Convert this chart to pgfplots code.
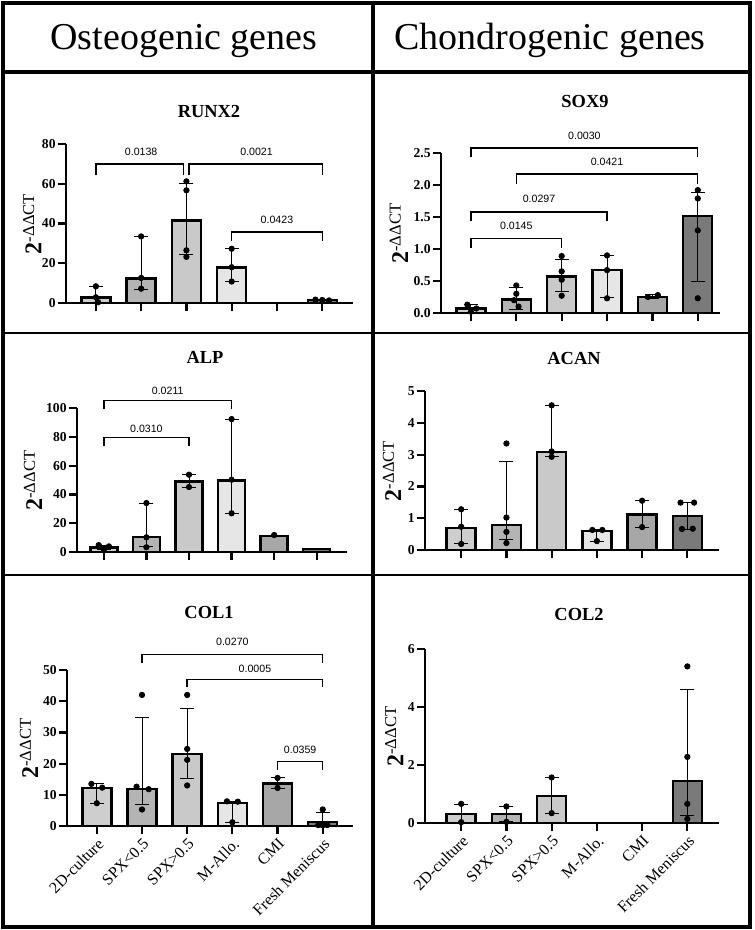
\documentclass[border=0pt]{standalone}
\usepackage{pgfplots}
\pgfplotsset{compat=1.18}
\usepackage{fontspec}
\setmainfont{Liberation Serif}
\newfontfamily\sansf{Liberation Sans}
\definecolor{c0}{HTML}{CECECE}
\definecolor{c1}{HTML}{B4B4B4}
\definecolor{c2}{HTML}{C9C9C9}
\definecolor{c3}{HTML}{E6E6E6}
\definecolor{c4}{HTML}{A7A7A7}
\definecolor{c5}{HTML}{7A7A7A}
\newcommand{\bw}{14.5pt}
\newcommand{\gbar}[3]{\addplot[ybar, bar width=\bw, fill=#3, draw=black, line width=1.2pt] coordinates {(#1,#2)};}
\newcommand{\ebar}[3]{\addplot[black, line width=0.5pt, mark=-, mark size=3.5pt, mark options={line width=0.5pt}] coordinates {(#1,#2) (#1,#3)};}
\newcommand{\plab}{\sansf\fontsize{5.3}{6}\selectfont}
\pgfplotsset{
  panel/.style={
    scale only axis, anchor=south west, clip=false,
    axis x line*=bottom, axis y line*=left,
    axis line style={line width=1.2pt},
    ymin=0, xtick={0,1,2,3,4,5}, xticklabels={},
    tick align=outside, major tick length=4pt,
    tick style={black, line width=1.1pt},
    minor tick num=0,
    /pgf/number format/assume math mode=true,
    yticklabel style={font=\bfseries\fontsize{6.8}{7.5}\selectfont, inner sep=1pt},
    ylabel={{\fontsize{12}{13}\selectfont\bfseries 2}\textsuperscript{\fontsize{8.3}{9}\selectfont -ΔΔCT}},
  },
  dots/.style={only marks, mark=*, mark size=1.35pt, black},
  brk/.style={black, line width=0.7pt, mark=none},
  bottomrow/.style={
    xticklabels={2D-culture,SPX<0.5,SPX>0.5,M-Allo.,CMI,Fresh Meniscus},
    xticklabel style={rotate=45, anchor=north east, font=\fontsize{8}{9}\selectfont, inner sep=1pt},
  },
}
\begin{document}
\begin{tikzpicture}
\useasboundingbox (0,0) rectangle (377pt,-465pt);
% frame
\draw[line width=2pt] (1.5pt,-1.5pt) rectangle (375pt,-463.5pt);
\draw[line width=2pt] (1.5pt,-36pt) -- (375pt,-36pt);
\draw[line width=1.8pt] (186.5pt,-1.5pt) -- (186.5pt,-463.5pt);
\draw[line width=1pt] (1.5pt,-166.5pt) -- (375pt,-166.5pt);
\draw[line width=1pt] (1.5pt,-287.5pt) -- (375pt,-287.5pt);
\node[anchor=base, font=\fontsize{19}{22}\selectfont] at (92pt,-25pt) {Osteogenic genes};
\node[anchor=base, font=\fontsize{19}{22}\selectfont] at (275pt,-25pt) {Chondrogenic genes};
% titles
\node[anchor=base, font=\bfseries\fontsize{9.2}{11}\selectfont] at (104.5pt,-59pt) {RUNX2};
\node[anchor=base, font=\bfseries\fontsize{9.2}{11}\selectfont] at (292.5pt,-54pt) {SOX9};
\node[anchor=base, font=\bfseries\fontsize{9.2}{11}\selectfont] at (102.5pt,-181.5pt) {ALP};
\node[anchor=base, font=\bfseries\fontsize{9.2}{11}\selectfont] at (287pt,-182pt) {ACAN};
\node[anchor=base, font=\bfseries\fontsize{9.2}{11}\selectfont] at (104.5pt,-309pt) {COL1};
\node[anchor=base, font=\bfseries\fontsize{9.2}{11}\selectfont] at (289.5pt,-310pt) {COL2};

% ---------------- RUNX2
\begin{axis}[panel, at={(33pt,-151.5pt)}, width=143.5pt, height=79.5pt,
  xmin=-0.66, xmax=5.68, ymax=80, ytick={0,20,40,60,80},
  ylabel style={at={(axis description cs:-0.118,0.5)}, anchor=center}]
\gbar{0}{2.8}{c0}
\gbar{1}{12.3}{c1}
\gbar{2}{41.5}{c2}
\gbar{3}{17.8}{c3}
\gbar{5}{1.6}{c5}
\ebar{0}{0}{8.4}
\ebar{1}{7.0}{33.5}
\ebar{2}{24.2}{60.2}
\ebar{3}{10.7}{27.2}
\ebar{5}{1.4}{1.8}
\addplot[dots] coordinates {(0,8.4) (0,2.9) (0.05,0.4) (1,33.5) (1,12.6) (1,7.2)
  (2,61.2) (2,56.7) (2,26.5) (2,23.2) (3,27.3) (3,18.0) (3,10.8)
  (4.85,1.7) (5,1.5) (5.15,1.3)};
\addplot[brk] coordinates {(0,64.6) (0,70) (1.94,70) (1.94,64.6)};
\addplot[brk] coordinates {(2.06,64.6) (2.06,70) (5,70) (5,64.6)};
\addplot[brk] coordinates {(3,31) (3,35.7) (5,35.7) (5,31)};
\node[font=\plab] at (axis cs:1,75.8) {0.0138};
\node[font=\plab] at (axis cs:3.55,75.8) {0.0021};
\node[font=\plab] at (axis cs:4,41.6) {0.0423};
\end{axis}

% ---------------- SOX9
\begin{axis}[panel, at={(220.5pt,-156.5pt)}, width=139.5pt, height=80pt,
  xmin=-0.66, xmax=5.49, ymax=2.5, ytick={0,0.5,1,1.5,2,2.5},
  yticklabel style={/pgf/number format/.cd, fixed, fixed zerofill, precision=1},
  ylabel style={at={(axis description cs:-0.151,0.5)}, anchor=center}]
\gbar{0}{0.07}{c0}
\gbar{1}{0.21}{c1}
\gbar{2}{0.57}{c2}
\gbar{3}{0.67}{c3}
\gbar{4}{0.25}{c4}
\gbar{5}{1.52}{c5}
\ebar{0}{0}{0.13}
\ebar{1}{0.06}{0.40}
\ebar{2}{0.33}{0.84}
\ebar{3}{0.24}{0.90}
\ebar{4}{0.23}{0.29}
\ebar{5}{0.49}{1.88}
\addplot[dots] coordinates {(-0.08,0.13) (0.12,0.07) (0,0.02)
  (1,0.43) (1,0.30) (0.95,0.2) (1.05,0.1)
  (2,0.89) (2,0.65) (2,0.52) (2,0.27) (3,0.90) (3,0.67) (3,0.23)
  (3.9,0.25) (4.12,0.28) (5,1.92) (5,1.79) (5,1.29) (5,0.23)};
\addplot[brk] coordinates {(0,2.43) (0,2.58) (5,2.58) (5,2.43)};
\addplot[brk] coordinates {(1,2.02) (1,2.17) (5,2.17) (5,2.02)};
\addplot[brk] coordinates {(0,1.44) (0,1.58) (3,1.58) (3,1.44)};
\addplot[brk] coordinates {(0,1.01) (0,1.16) (2,1.16) (2,1.01)};
\node[font=\plab] at (axis cs:2.5,2.77) {0.0030};
\node[font=\plab] at (axis cs:3,2.36) {0.0421};
\node[font=\plab] at (axis cs:1.5,1.78) {0.0297};
\node[font=\plab] at (axis cs:1,1.36) {0.0145};
\end{axis}

% ---------------- ALP
\begin{axis}[panel, at={(38.5pt,-276pt)}, width=135pt, height=72pt,
  xmin=-0.63, xmax=5.71, ymax=100, ytick={0,20,40,60,80,100},
  ylabel style={at={(axis description cs:-0.163,0.5)}, anchor=center}]
\renewcommand{\bw}{13.5pt}
\gbar{0}{3.2}{c0}
\gbar{1}{10.4}{c1}
\gbar{2}{49}{c2}
\gbar{3}{49.7}{c3}
\gbar{4}{11.2}{c4}
\gbar{5}{2.0}{c5}
\ebar{0}{1.8}{4.6}
\ebar{1}{3.5}{34}
\ebar{2}{45.1}{53.7}
\ebar{3}{27}{92.3}
\ebar{4}{10.8}{11.8}
\addplot[dots] coordinates {(-0.12,4.8) (0.12,3.9) (0,1.5) (1,34) (1,10.2) (1,3.3)
  (2,53.7) (2,45.1) (3,92.3) (3,50.2) (3,26.9) (4,11.8)};
\addplot[brk] coordinates {(0,99) (0,105.3) (3,105.3) (3,99)};
\addplot[brk] coordinates {(0,73.4) (0,79.4) (2,79.4) (2,73.4)};
\node[font=\plab] at (axis cs:1.5,111.6) {0.0211};
\node[font=\plab] at (axis cs:1,85.6) {0.0310};
\end{axis}
\renewcommand{\bw}{14.5pt}

% ---------------- ACAN
\begin{axis}[panel, at={(212.5pt,-275pt)}, width=147pt, height=79.5pt,
  xmin=-0.8, xmax=5.7, ymax=5, ytick={0,1,2,3,4,5},
  ylabel style={at={(axis description cs:-0.112,0.5)}, anchor=center}]
\gbar{0}{0.70}{c0}
\gbar{1}{0.79}{c1}
\gbar{2}{3.08}{c2}
\gbar{3}{0.60}{c3}
\gbar{4}{1.12}{c4}
\gbar{5}{1.06}{c5}
\ebar{0}{0.2}{1.28}
\ebar{1}{0.32}{2.77}
\ebar{2}{2.95}{4.54}
\ebar{3}{0.28}{0.63}
\ebar{4}{0.72}{1.55}
\ebar{5}{0.65}{1.50}
\addplot[dots] coordinates {(0,1.28) (0,0.73) (0,0.19)
  (1,3.35) (1,1.02) (1,0.57) (1,0.22) (2,4.55) (2,3.10) (2,2.93)
  (2.9,0.63) (3.12,0.63) (3,0.28) (4,1.55) (4,0.72)
  (4.85,1.49) (5.15,1.49) (4.88,0.66) (5.12,0.67)};
\end{axis}

% ---------------- COL1
\begin{axis}[panel, bottomrow, at={(33.5pt,-413pt)}, width=143pt, height=78pt,
  xmin=-0.66, xmax=5.67, ymax=50, ytick={0,10,20,30,40,50},
  ylabel style={at={(axis description cs:-0.133,0.5)}, anchor=center}]
\gbar{0}{12.1}{c0}
\gbar{1}{11.9}{c1}
\gbar{2}{23.0}{c2}
\gbar{3}{7.4}{c3}
\gbar{4}{13.6}{c4}
\gbar{5}{1.2}{c5}
\ebar{0}{7.3}{13.5}
\ebar{1}{7.0}{34.8}
\ebar{2}{15.2}{37.8}
\ebar{3}{1.0}{7.9}
\ebar{4}{12.0}{15.4}
\ebar{5}{0}{4.2}
\addplot[dots] coordinates {(-0.12,13.5) (0.12,12.3) (0,7.3)
  (1,42) (0.88,12.6) (1.15,11.8) (1,5.3)
  (2,42) (2,24.7) (2,21.2) (2,13.0)
  (2.88,7.9) (3.12,7.8) (3,1.2) (4,15.4) (4,12.2)
  (5,5.3) (4.9,0.3) (5,0.2) (5.1,0.3)};
\addplot[brk] coordinates {(1,52.1) (1,55) (5,55) (5,52.1)};
\addplot[brk] coordinates {(2,44.4) (2,47) (5,47) (5,44.4)};
\addplot[brk] coordinates {(4,17.9) (4,20.6) (5,20.6) (5,17.9)};
\node[font=\plab] at (axis cs:3,58.9) {0.0270};
\node[font=\plab] at (axis cs:3.5,50.5) {0.0005};
\node[font=\plab] at (axis cs:4.5,24.4) {0.0359};
\end{axis}

% ---------------- COL2
\begin{axis}[panel, bottomrow, at={(212.5pt,-411.5pt)}, width=147pt, height=87pt,
  xmin=-0.8, xmax=5.7, ymax=6, ytick={0,2,4,6},
  ylabel style={at={(axis description cs:-0.105,0.5)}, anchor=center}]
\gbar{0}{0.31}{c0}
\gbar{1}{0.31}{c1}
\gbar{2}{0.94}{c2}
\gbar{5}{1.45}{c5}
\ebar{0}{0}{0.65}
\ebar{1}{0.05}{0.58}
\ebar{2}{0.34}{1.57}
\ebar{5}{0.26}{4.62}
\addplot[dots] coordinates {(0,0.66) (0,0.03) (1,0.57) (1,0.04) (2,1.57) (2,0.34)
  (5,5.4) (5,2.28) (5,0.66) (5,0.14)};
\end{axis}
\end{tikzpicture}
\end{document}
